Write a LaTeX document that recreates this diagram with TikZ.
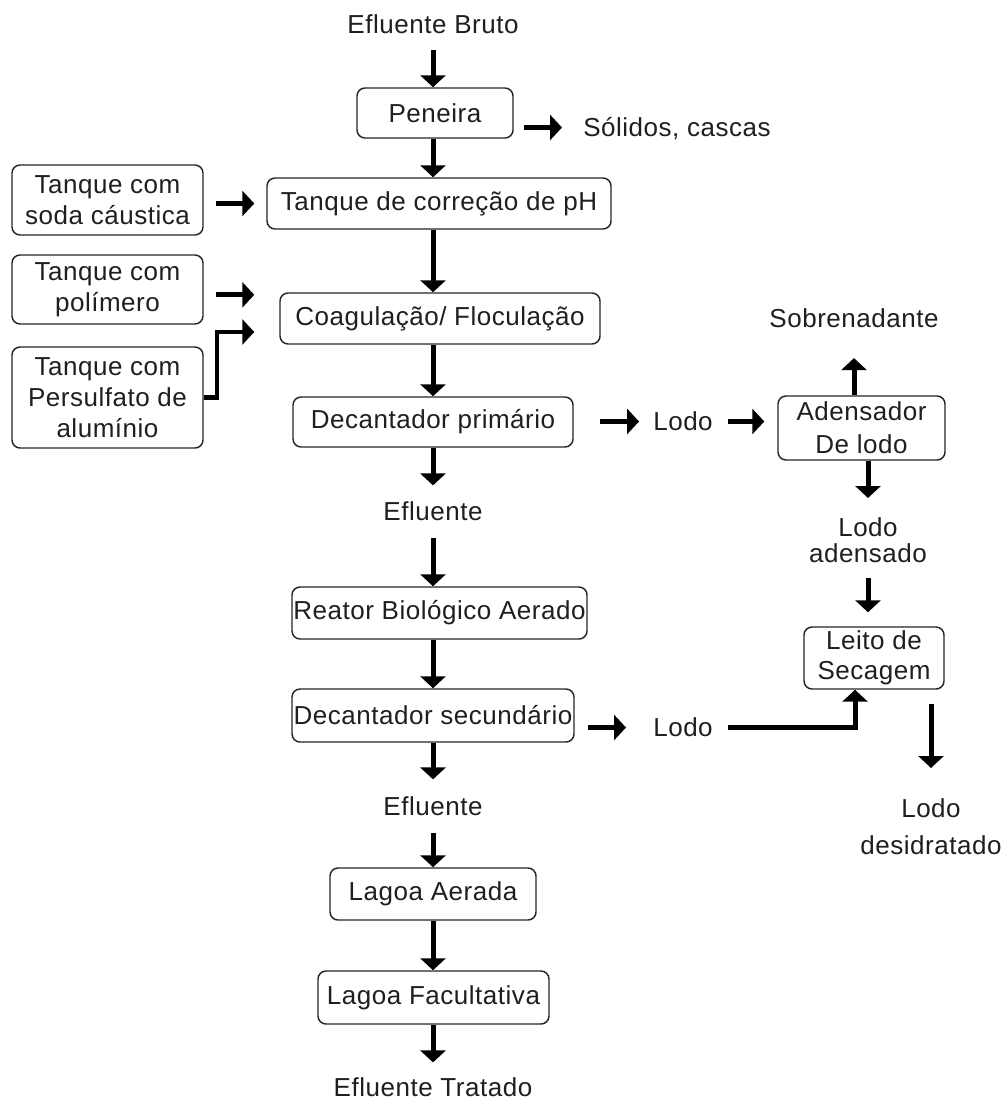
\documentclass[tikz,border=0pt]{standalone}
\usepackage{fontspec}
\setmainfont[LetterSpace=2]{Liberation Sans}
\usetikzlibrary{arrows.meta}
\newdimen\pxu \pxu=0.75pt
\begin{document}
\begin{tikzpicture}[x=0.75pt,y=-0.75pt,
  every node/.style={font=\fontsize{19.5pt}{23.25pt}\selectfont, text=black!88},
  box/.style={draw=black!85, line width=1.1pt, rounded corners=6pt, align=center, inner sep=0pt},
  lbl/.style={inner sep=0pt, text height=14pt, text depth=0pt},
  mlbl/.style={inner sep=0pt, align=center, anchor=north},
  arr/.style={line width=3.75pt, -{Triangle[width=18.75pt,length=9pt]}, line join=miter},
]
\fill[white] (0,0) rectangle (1007,1102);
\useasboundingbox (0,0) rectangle (1007,1102);

\coordinate (colx) at (433,0);
\coordinate (pk) at (217,332);

\node[lbl] (bruto) at (433,24) {Efluente Bruto};
\node[box, minimum width=156\pxu, minimum height=50\pxu] (pen) at (435,113) {Peneira};
\node[lbl, anchor=west] (sol) at (583,127.5) {Sólidos, cascas};
\node[box, minimum width=344\pxu, minimum height=51\pxu] (ph) at (439,203.5) {Tanque de correção de pH};
\node[box, minimum width=191\pxu, minimum height=70\pxu] (soda) at (107.5,200) {Tanque com\\soda cáustica};
\node[box, minimum width=191\pxu, minimum height=69\pxu] (poli) at (107.5,289.5) {Tanque com\\polímero};
\node[box, minimum width=191\pxu, minimum height=101\pxu] (pers) at (107.5,397.5) {Tanque com\\Persulfato de\\alumínio};
\node[box, minimum width=320\pxu, minimum height=51\pxu] (coag) at (440,318.5) {Coagulação/ Floculação};
\node[box, minimum width=280\pxu, minimum height=50\pxu] (dec1) at (433,422) {Decantador primário};
\node[lbl] (lodo1) at (683,421.5) {Lodo};
\node[box, minimum width=167\pxu, minimum height=64\pxu, font=\fontsize{19.5pt}{24.75pt}\selectfont] (aden) at (861.5,428) {Adensador\\De lodo};
\node[lbl] (sobre) at (854,318.5) {Sobrenadante};
\node[mlbl, font=\fontsize{19.5pt}{19.5pt}\selectfont] (lodoad) at (868,517) {Lodo\\adensado};
\node[box, minimum width=140\pxu, minimum height=62\pxu, font=\fontsize{19.5pt}{22.5pt}\selectfont] (leito) at (874,658) {Leito de\\Secagem};
\node[lbl] (efl1) at (433,511) {Efluente};
\node[box, minimum width=295\pxu, minimum height=52\pxu] (reator) at (439.5,613) {Reator Biológico Aerado};
\node[box, minimum width=282\pxu, minimum height=53\pxu] (dec2) at (433,715.5) {Decantador secundário};
\node[lbl] (lodo2) at (683,727.5) {Lodo};
\node[mlbl, font=\fontsize{19.5pt}{28pt}\selectfont] (desid) at (931,798) {Lodo\\desidratado};
\node[lbl] (efl2) at (433,806) {Efluente};
\node[box, minimum width=206\pxu, minimum height=52\pxu] (lagA) at (433,894) {Lagoa Aerada};
\node[box, minimum width=231\pxu, minimum height=53\pxu] (lagF) at (433.5,997.5) {Lagoa Facultativa};
\node[lbl] (trat) at (433,1087) {Efluente Tratado};

\draw[arr, shorten <=16\pxu] (bruto.south) -- (bruto.south |- pen.north);
\draw[arr, shorten <=10\pxu, shorten >=21\pxu] (sol.west -| pen.east) -- (sol.west);
\draw[arr] (colx |- pen.south) -- (colx |- ph.north);
\draw[arr, shorten <=12\pxu, shorten >=12\pxu] (soda.east |- ph.west) -- (ph.west);
\draw[arr, shorten <=12\pxu, shorten >=25\pxu] ([yshift=-4pt]poli.east) -- ([yshift=-4pt]poli.east -| coag.west);
\draw[arr, line width=3.2pt, shorten >=25\pxu] (pers.east) -| (pk) -- (pk -| coag.west);
\draw[arr] (colx |- ph.south) -- (colx |- coag.north);
\draw[arr] (colx |- coag.south) -- (colx |- dec1.north);
\draw[arr, shorten >=16\pxu] (colx |- dec1.south) -- (efl1.north);
\draw[arr, shorten <=17\pxu] (efl1.south) -- (colx |- reator.north);
\draw[arr] (colx |- reator.south) -- (colx |- dec2.north);
\draw[arr, shorten >=17\pxu] (colx |- dec2.south) -- (efl2.north);
\draw[arr, shorten <=17\pxu] (efl2.south) -- (colx |- lagA.north);
\draw[arr] (colx |- lagA.south) -- (colx |- lagF.north);
\draw[arr, shorten >=15\pxu] (colx |- lagF.south) -- (trat.north);
\draw[arr, shorten <=26\pxu, shorten >=14\pxu] (dec1.east |- lodo1.west) -- (lodo1.west);
\draw[arr, shorten <=15\pxu, shorten >=13\pxu] (lodo1.east) -- (lodo1.east -| aden.west);
\draw[arr, shorten >=30\pxu] (sobre.south |- aden.north) -- (sobre.south);
\draw[arr, shorten >=19\pxu] (lodoad.north |- aden.south) -- (lodoad.north);
\draw[arr, shorten <=15\pxu, shorten >=14\pxu] (lodoad.south) -- (lodoad.south |- leito.north);
\draw[arr, shorten <=13\pxu, shorten >=27\pxu] (dec2.east |- lodo2.west) -- (lodo2.west);
\draw[arr, shorten <=15\pxu] (lodo2.east) -| ([xshift=-14.25pt]leito.south);
\draw[arr, shorten <=14\pxu, shorten >=30\pxu] (desid.north |- leito.south) -- (desid.north);
\end{tikzpicture}
\end{document}
